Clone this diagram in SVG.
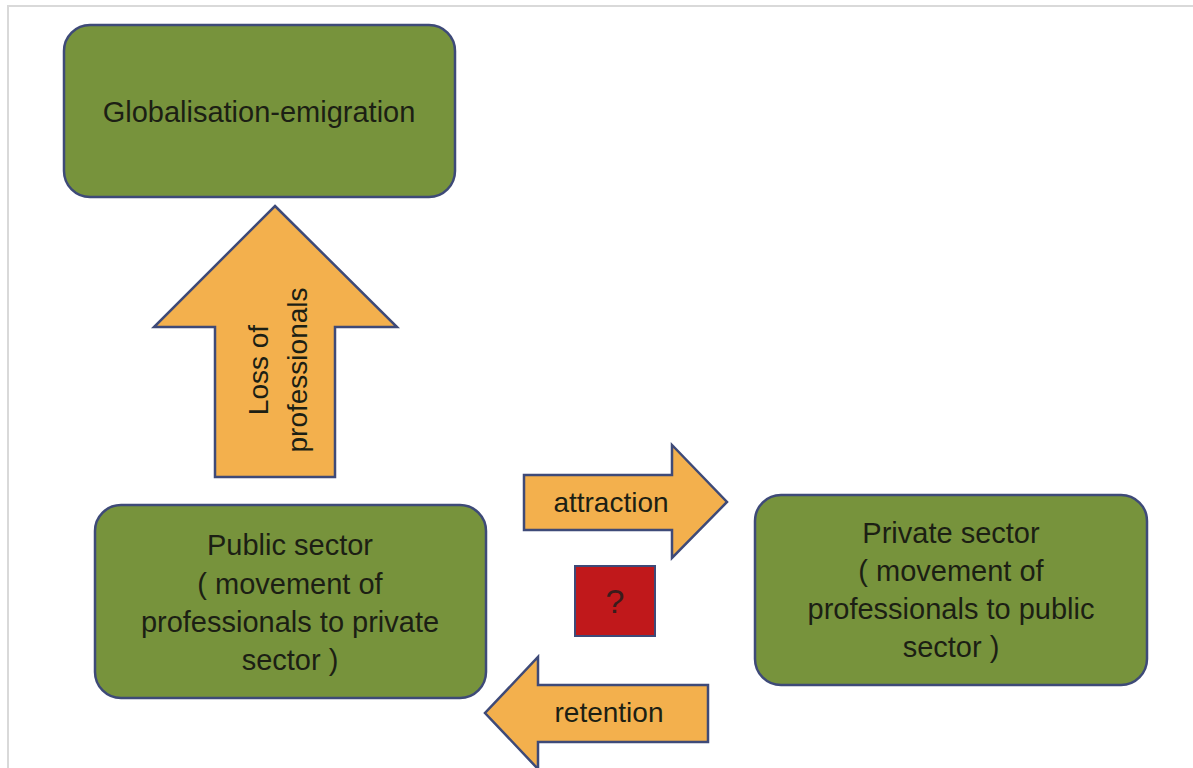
<svg xmlns="http://www.w3.org/2000/svg" width="1193" height="768" viewBox="0 0 1193 768">
<style>
.box{fill:#77933C;stroke:#3E4A78;stroke-width:2.5}
.arr{fill:#F3B04D;stroke:#3E4A78;stroke-width:2.5;stroke-linejoin:miter}
.t{font-family:"Liberation Sans",Arial,sans-serif;font-size:28px;fill:#1c1f14;text-anchor:middle}
</style>
<rect x="0" y="0" width="1193" height="768" fill="#ffffff"/>
<path d="M8,768 V6 H1193" fill="none" stroke="#d9d9d9" stroke-width="2"/>
<g id="connectors">
  <g id="loss-arrow">
    <polygon class="arr" points="275,206 397,327 335,327 335,477 215,477 215,327 154,327"/>
    <text class="t" transform="translate(268,370) rotate(-90)">Loss of</text>
    <text class="t" transform="translate(307,370) rotate(-90)">professionals</text>
  </g>
  <g id="attraction-arrow">
    <polygon class="arr" points="524,475 672,475 672,445 727,502 672,558 672,530 524,530"/>
    <text class="t" x="611" y="512">attraction</text>
  </g>
  <g id="retention-arrow">
    <polygon class="arr" points="708,685 538,685 538,657 485,713 538,769 538,742 708,742"/>
    <text class="t" x="609" y="722">retention</text>
  </g>
</g>
<g id="globalisation">
  <rect class="box" x="64" y="25" width="391" height="172" rx="26"/>
  <text class="t" x="259" y="122" style="font-size:29px">Globalisation-emigration</text>
</g>
<g id="public">
  <rect class="box" x="95" y="505" width="391" height="193" rx="26"/>
  <text class="t" x="290" y="555" style="font-size:29px">Public sector</text>
  <text class="t" x="290" y="594" style="font-size:29px">( movement of</text>
  <text class="t" x="290" y="632" style="font-size:29px">professionals to private</text>
  <text class="t" x="290" y="670" style="font-size:29px">sector )</text>
</g>
<g id="private">
  <rect class="box" x="755" y="495" width="392" height="190" rx="26"/>
  <text class="t" x="951" y="543" style="font-size:29px">Private sector</text>
  <text class="t" x="951" y="581" style="font-size:29px">( movement of</text>
  <text class="t" x="951" y="619" style="font-size:29px">professionals to public</text>
  <text class="t" x="951" y="657" style="font-size:29px">sector )</text>
</g>
<g id="question">
  <rect x="575" y="566" width="80" height="70" fill="#C0181B" stroke="#3E4A78" stroke-width="2"/>
  <text class="t" x="615" y="613" style="fill:#3a1c1c;font-size:34px">?</text>
</g>
</svg>
